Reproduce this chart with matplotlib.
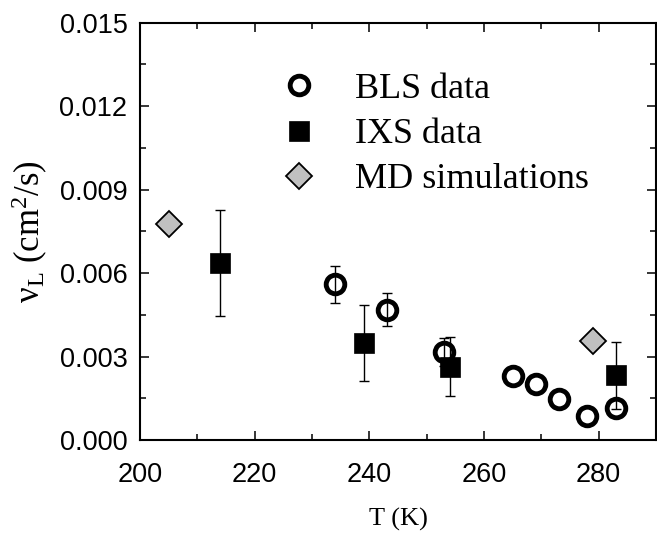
import numpy as np
import matplotlib
matplotlib.use("Agg")
import matplotlib.pyplot as plt

# BLS data (open circles)
bls_T = [234, 243, 253, 265, 269, 273, 278, 283]
bls_v = [0.00559, 0.00469, 0.00317, 0.00230, 0.00201, 0.00146, 0.00086, 0.00114]
bls_err = [0.00065, 0.00060, 0.00050, np.nan, np.nan, np.nan, np.nan, np.nan]

# IXS data (filled squares)
ixs_T = [214, 239, 254, 283]
ixs_v = [0.00636, 0.00349, 0.00264, 0.00232]
ixs_err = [0.00190, 0.00138, 0.00105, 0.00120]

# MD simulations (grey diamonds)
md_T = [205, 279]
md_v = [0.00776, 0.00357]

plt.rcParams['mathtext.fontset'] = 'custom'
plt.rcParams['mathtext.rm'] = 'Liberation Serif'
plt.rcParams['mathtext.it'] = 'Liberation Serif:italic'

fig = plt.figure(figsize=(6.57, 5.33), dpi=100)
ax = fig.add_axes([140/657, 1-440/533, 516/657, (440-22.7)/533])

# error bars first, markers on top
ax.errorbar(ixs_T, ixs_v, yerr=ixs_err, fmt='none', ecolor='black',
            elinewidth=1.0, capsize=3.4, capthick=1.0, zorder=2)
ax.errorbar(bls_T, bls_v, yerr=bls_err, fmt='none', ecolor='black',
            elinewidth=1.0, capsize=3.4, capthick=1.0, zorder=2)

h_md, = ax.plot(md_T, md_v, 'D', ms=13.5, mfc='#c0c0c0', mec='black', mew=1.3,
                ls='none', label='MD simulations', zorder=3)
h_ixs, = ax.plot(ixs_T, ixs_v, 's', ms=14.8, mfc='black', mec='black', mew=0.5,
                 ls='none', label='IXS data', zorder=3)
h_bls, = ax.plot(bls_T, bls_v, 'o', ms=13.4, mfc='none', mec='black', mew=3.5,
                 ls='none', label='BLS data', zorder=4)

ax.set_xlim(200, 290)
ax.set_ylim(0, 0.015)
ax.set_xticks([200, 220, 240, 260, 280])
ax.set_xticks(np.arange(210, 290, 20), minor=True)
ax.set_yticks(np.arange(0, 0.0151, 0.003))
ax.set_yticks(np.arange(0.0015, 0.015, 0.003), minor=True)
ax.set_yticklabels([f"{v:.3f}" for v in np.arange(0, 0.0151, 0.003)])

ax.tick_params(which='both', direction='in', top=True, right=True, width=1.1)
ax.tick_params(which='major', length=6.5)
ax.tick_params(which='minor', length=4)
ax.tick_params(axis='x', pad=16)
ax.tick_params(axis='y', pad=9)
for lab in ax.get_xticklabels() + ax.get_yticklabels():
    lab.set_fontfamily('Liberation Sans')
    lab.set_fontsize(19.5)
for sp in ax.spines.values():
    sp.set_linewidth(1.5)

ax.set_xlabel('T (K)', family='Liberation Serif', fontsize=19, labelpad=14)
ax.set_ylabel(r'$\mathrm{\nu_L}$ (cm$^{2}$/s)', family='Liberation Serif',
              fontsize=25, labelpad=7)

ax.legend(handles=[h_bls, h_ixs, h_md], loc='upper left',
          bbox_to_anchor=(0.273, 0.88), frameon=False, borderaxespad=0,
          borderpad=0, handlelength=1.0, handletextpad=1.05,
          labelspacing=0.33, prop={'family': 'Liberation Serif', 'size': 26})

fig.savefig('out.png', dpi=100)
